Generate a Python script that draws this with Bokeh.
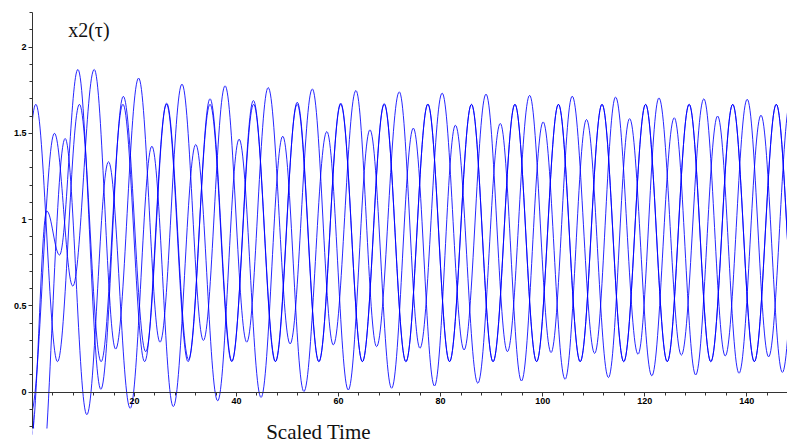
import numpy as np
from bokeh.plotting import figure
from bokeh.models import Range1d, FixedTicker, CustomJSTickFormatter, Label, ColumnDataSource, BoxAnnotation
from bokeh.embed import file_html
from bokeh.resources import INLINE

# ---- data: extrema (time, value), one list pair per curve ----
a_t = [-3.6, 0.65, 4.9, 9.2, 13.45, 17.73, 21.98, 26.27, 30.5, 34.8, 39.05, 43.35, 47.6, 51.88,
       56.13, 60.42, 64.67, 68.95, 73.2, 77.5, 81.75, 86.05, 90.28, 94.57, 98.82, 103.1, 107.36,
       111.64, 115.9, 120.18, 124.43, 128.72, 132.97, 137.26, 141.5, 145.8, 150.05]
a_v = [0.177, 1.668] * 18 + [0.177]

b_t = [-0.3, 4.3, 7.9, 12.1, 16.3, 20.8, 25.0, 29.3, 33.5, 37.75, 42.0, 46.2, 50.5, 54.85, 58.97,
       63.4, 67.45, 71.9, 75.95, 80.3, 84.6, 88.9, 93.1, 97.45, 101.65, 105.8, 110.2, 114.3, 118.7,
       122.8, 127.2, 131.6, 135.8, 140.1, 144.3, 148.6]
b_v = [-0.12, 1.50, 0.615, 1.87, 0.25, 1.82, 0.29, 1.785, 0.30, 1.775, 0.29, 1.765, 0.28, 1.757,
       0.274, 1.748, 0.264, 1.74, 0.255, 1.733, 0.245, 1.727, 0.235, 1.72, 0.23, 1.715, 0.225, 1.71,
       0.22, 1.705, 0.215, 1.70, 0.21, 1.697, 0.205, 1.693]

c_t = [-1.0, 1.4, 6.4, 10.65, 14.9, 19.15, 23.4, 27.6, 32.0, 36.3, 40.5, 44.8, 49.05, 53.2, 57.7,
       61.9, 66.15, 70.4, 74.65, 78.8, 82.9, 87.3, 91.7, 95.85, 100.1, 104.4, 108.6, 112.9, 117.05,
       121.4, 125.8, 130.0, 134.3, 138.5, 142.8, 147.0, 151.3]
c_v = [0.2, -0.6, 1.47, -0.13, 1.335, -0.093, 1.425, -0.083, 1.435, -0.05, 1.466, -0.03, 1.483,
       0.004, 1.51, 0.013, 1.52, 0.023, 1.53, 0.036, 1.547, 0.052, 1.557, 0.065, 1.566, 0.075, 1.58,
       0.085, 1.585, 0.095, 1.59, 0.10, 1.60, 0.11, 1.605, 0.115, 1.61]

d_t = [-0.2, 2.8, 5.3, 8.9, 13.4, 17.8, 22.2, 26.3, 30.6, 34.8, 39.1, 43.3, 47.65, 51.9, 56.15,
       60.42, 64.67, 68.95, 73.2, 77.5, 81.75, 86.05, 90.28, 94.57, 98.82, 103.1, 107.36, 111.64,
       115.9, 120.18, 124.43, 128.72, 132.97, 137.26, 141.5, 145.8, 150.05]
d_v = [-0.25, 1.05, 0.795, 1.87, 0.017, 1.714, 0.235, 1.675, 0.19, 1.70, 0.18, 1.69, 0.178, 1.68,
       0.177, 1.675, 0.177, 1.672, 0.177, 1.67, 0.177, 1.668, 0.177, 1.668, 0.177, 1.668, 0.177,
       1.668, 0.177, 1.668, 0.177, 1.668, 0.177, 1.668, 0.177, 1.668, 0.177]

x_ticks = [20, 40, 60, 80, 100, 120, 140]
y_ticks = [0, 0.5, 1, 1.5, 2]
x_minor_step = 4
y_minor_step = 0.1
y_low, y_high = -0.21, 2.2      # drawn extent of the value axis

LINE = "#0000ff"
K = 0.3634  # bezier handle fraction giving a smooth, sine-like arc between extrema


def arcs(ts, vs):
    t = np.asarray(ts, float)
    v = np.asarray(vs, float)
    x0, x1, y0, y1 = t[:-1], t[1:], v[:-1], v[1:]
    d = x1 - x0
    return ColumnDataSource(dict(x0=x0, y0=y0, x1=x1, y1=y1,
                                 cx0=x0 + K * d, cy0=y0, cx1=x1 - K * d, cy1=y1))


p = figure(width=787, height=446, output_backend="svg", toolbar_location=None,
           x_range=Range1d(0, 148), y_range=Range1d(-0.3145, y_high),
           min_border_left=32, min_border_right=0, min_border_top=12, min_border_bottom=0)
p.outline_line_color = None
p.grid.visible = False
p.background_fill_color = "white"
p.border_fill_color = "white"

for ts, vs in [(a_t, a_v), (d_t, d_v), (b_t, b_v), (c_t, c_v)]:
    p.bezier(x0="x0", y0="y0", x1="x1", y1="y1", cx0="cx0", cy0="cy0", cx1="cx1", cy1="cy1",
             source=arcs(ts, vs), line_color=LINE, line_width=1, line_alpha=0.85)

# white strip below the plotted value range (curves are cut off there, as in the original)
p.add_layout(BoxAnnotation(top=y_low, fill_color="white", fill_alpha=1.0, line_color=None))

fmt = CustomJSTickFormatter(code="return tick.toString();")

xa = p.xaxis[0]
xa.fixed_location = 0
xa.ticker = FixedTicker(ticks=x_ticks,
                        minor_ticks=[x_minor_step * i for i in range(0, 38)])
xa.formatter = fmt
ya = p.yaxis[0]
ya.bounds = (y_low, y_high)
ya.ticker = FixedTicker(ticks=y_ticks,
                        minor_ticks=[round(-0.2 + y_minor_step * i, 2) for i in range(0, 25)])
ya.formatter = fmt

for ax in (xa, ya):
    ax.axis_line_color = "#333333"
    ax.axis_line_width = 1
    ax.major_tick_line_color = "#333333"
    ax.minor_tick_line_color = "#333333"
    ax.major_tick_in = 0
    ax.major_tick_out = 4
    ax.minor_tick_in = 0
    ax.minor_tick_out = 3
    ax.major_label_standoff = 2
    ax.major_label_text_font = "Liberation Sans"
    ax.major_label_text_font_style = "bold"
    ax.major_label_text_font_size = "9px"
    ax.major_label_text_color = "black"

p.add_layout(Label(x=7.0, y=2.032, text="x2(τ)", text_font="Liberation Serif",
                   text_font_size="20px", text_color="#111111", text_baseline="bottom"))
p.add_layout(Label(x=45.8, y=-0.302, text="Scaled Time", text_font="Liberation Serif",
                   text_font_size="21px", text_color="#111111", text_baseline="bottom"))

open("out.html", "w").write(file_html(p, INLINE))
